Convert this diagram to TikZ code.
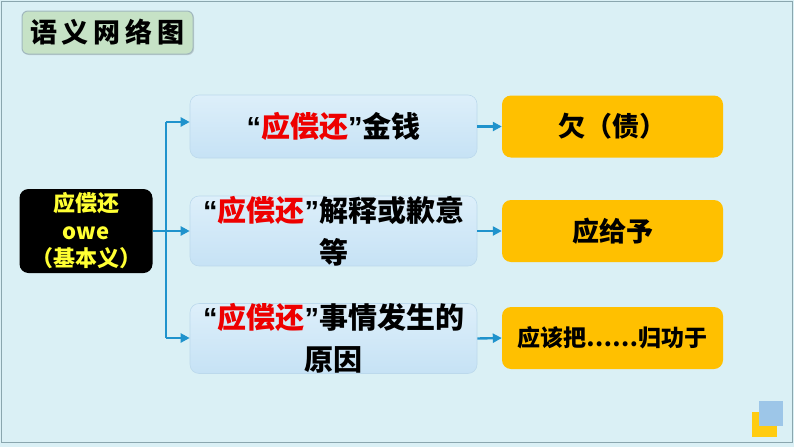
\documentclass[tikz,border=0pt]{standalone}
\usepackage{fontspec}
\setmainfont{Noto Sans CJK SC}[BoldFont={Noto Sans CJK SC Black}]
\newfontfamily\qf{Liberation Sans}
\newcommand{\myLq}{{\qf\bfseries “}}
\newcommand{\myRq}{{\qf\bfseries ”}}
\usetikzlibrary{arrows.meta,shadows}
\definecolor{bgc}{HTML}{DAF0F5}
\definecolor{framec}{HTML}{8AA6AE}
\definecolor{titlec}{HTML}{C6E2C6}
\definecolor{arrowc}{HTML}{1F93CC}
\definecolor{midtop}{HTML}{DDEFFA}
\definecolor{midbot}{HTML}{C6E2F5}
\definecolor{midborder}{HTML}{BCD9EC}
\definecolor{goldc}{HTML}{FFC000}
\definecolor{redc}{HTML}{EE0000}
\definecolor{yellowtxt}{HTML}{FFFF33}
\definecolor{decoblue}{HTML}{9DC6E8}
\definecolor{decoyellow}{HTML}{FFCC11}
\begin{document}
\begin{tikzpicture}[x=1pt,y=-1pt,
  midbox/.style={draw=midborder,line width=0.6pt,rounded corners=9pt,top color=midtop,bottom color=midbot,minimum width=287pt,minimum height=63pt,align=center,font=\fontsize{29}{42}\selectfont\bfseries,inner sep=0pt},
  goldbox/.style={fill=goldc,rounded corners=9pt,minimum width=221pt,minimum height=62pt,align=center,inner sep=0pt},
  conn/.style={draw=arrowc,line width=2.4pt},
  arr/.style={conn,-{Triangle[length=9pt,width=9pt]}}
]
\fill[bgc] (0,0) rectangle (794,447);
\draw[framec,line width=1pt] (1,1) rectangle (792,442);
\useasboundingbox (0,0) rectangle (794,447);

% title
\node[draw=framec!80,line width=1pt,fill=titlec,rounded corners=6pt,minimum width=171pt,minimum height=43pt,inner sep=0pt,drop shadow={shadow xshift=1pt,shadow yshift=-1pt,opacity=0.3},font=\fontsize{27}{30}\selectfont\bfseries] (title) at (107.5,32.5) {语\hspace{5pt}义\hspace{5pt}网\hspace{5pt}络\hspace{5pt}图};

% root
\node[fill=black,rounded corners=9pt,minimum width=133pt,minimum height=84pt,inner sep=0pt,align=center,text=yellowtxt,font=\fontsize{22}{27.5}\selectfont\bfseries] (root) at (86,231) {应偿还\\owe\\（基本义）};

% middle boxes
\node[midbox] (m1) at (333.5,126.5) {\myLq\textcolor{redc}{应偿还}\myRq 金钱};
\node[midbox] (m2) at (333.5,231) {\myLq\textcolor{redc}{应偿还}\myRq 解释或歉意\\等};
\node[midbox] (m3) at (333.5,338.5) {\myLq\textcolor{redc}{应偿还}\myRq 事情发生的\\原因};

% right boxes
\node[goldbox,font=\fontsize{27}{30}\selectfont\bfseries] (r1) at (612.5,126.5) {欠（债）};
\node[goldbox,font=\fontsize{27}{30}\selectfont\bfseries] (r2) at (612.5,231) {应给予};
\node[goldbox,font=\fontsize{23}{26}\selectfont\bfseries] (r3) at (612.5,338) {应该把……归功于};

% connectors
\coordinate (jt) at (166,122);
\coordinate (jb) at (166,338);
\draw[conn] (jt) -- (jb);
\draw[arr] (jt) -- (jt -| m1.west);
\draw[arr] (root.east) -- (m2.west);
\draw[arr] (jb) -- (jb -| m3.west);
\draw[arr] (m1.east) -- (r1.west);
\draw[arr] (m2.east) -- (r2.west);
\draw[arr] (m3.east) -- (r3.west);

% decoration
\fill[decoyellow] (752,412) rectangle (777,437);
\fill[decoblue] (759,401) rectangle (783,426);
\end{tikzpicture}
\end{document}
